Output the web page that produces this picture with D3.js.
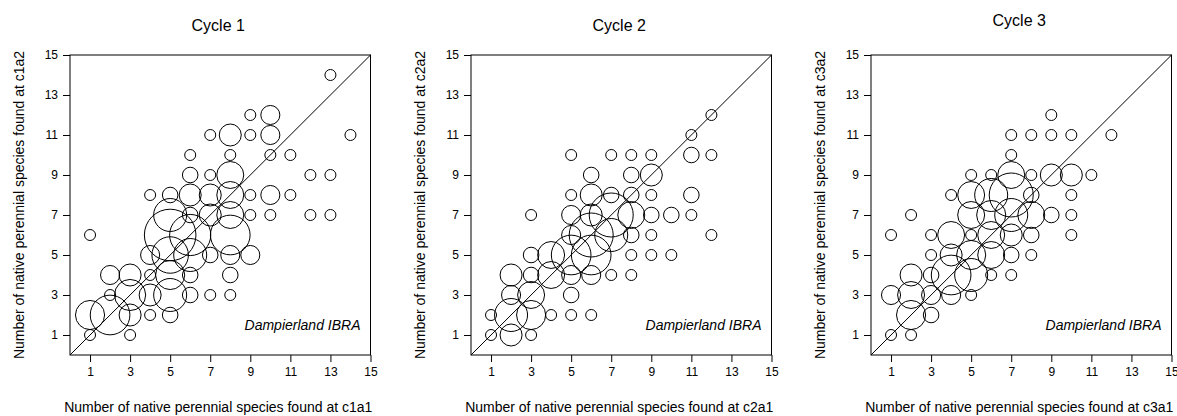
<!DOCTYPE html>
<html>
<head>
<meta charset="utf-8">
<script src="https://cdn.jsdelivr.net/npm/d3@7"></script>
<style>
  html, body { margin: 0; padding: 0; background: #fff; }
  svg { display: block; font-family: Arial, "Liberation Sans", sans-serif; }
</style>
</head>
<body>
<svg id="chart" width="1177" height="416"></svg>
<script>
// Site-pair comparisons: [species at a1, species at a2, number of site pairs]
const cycle1 = [
  [13,14,1],[9,12,1],[10,12,3],[7,11,1],[8,11,4],[9,11,1],[10,11,3],[14,11,1],
  [6,10,1],[8,10,1],[10,10,1],[11,10,1],
  [6,9,2],[7,9,1],[8,9,6],[12,9,1],[13,9,1],
  [4,8,1],[5,8,2],[6,8,4],[7,8,4],[8,8,6],[9,8,1],[10,8,3],[11,8,1],
  [5,7,9],[6,7,2],[7,7,4],[8,7,6],[9,7,1],[10,7,1],[12,7,1],[13,7,1],
  [1,6,1],[5,6,22],[6,6,14],[8,6,13],
  [4,5,3],[5,5,11],[6,5,9],[7,5,2],[8,5,3],[9,5,3],
  [2,4,3],[3,4,4],[4,4,1],[5,4,7],[6,4,2],[8,4,2],
  [2,3,1],[3,3,8],[4,3,4],[5,3,9],[6,3,2],[7,3,1],[8,3,1],
  [1,2,7],[2,2,13],[3,2,4],[4,2,1],[5,2,2],
  [1,1,1],[3,1,1]
];
const cycle2 = [
  [12,12,1],[11,11,1],
  [5,10,1],[7,10,1],[8,10,1],[9,10,1],[11,10,2],[12,10,1],
  [6,9,2],[8,9,2],[9,9,4],
  [5,8,1],[6,8,4],[7,8,2],[8,8,2],[9,8,1],[11,8,2],
  [3,7,1],[5,7,3],[6,7,4],[7,7,16],[8,7,6],[9,7,2],[10,7,2],[11,7,1],
  [5,6,3],[6,6,16],[7,6,9],[8,6,2],[9,6,1],[12,6,1],
  [3,5,2],[4,5,6],[5,5,13],[6,5,13],[8,5,1],[9,5,1],[10,5,1],
  [2,4,4],[3,4,2],[4,4,6],[5,4,3],[6,4,3],[7,4,1],[8,4,1],
  [2,3,3],[3,3,6],[5,3,2],
  [1,2,1],[2,2,9],[3,2,7],[4,2,1],[5,2,1],[6,2,1],
  [1,1,1],[2,1,4],[3,1,1]
];
const cycle3 = [
  [9,12,1],
  [7,11,1],[8,11,1],[9,11,1],[10,11,1],[12,11,1],
  [7,10,1],
  [5,9,1],[6,9,1],[7,9,6],[8,9,1],[9,9,4],[10,9,4],[11,9,1],
  [4,8,1],[5,8,6],[6,8,9],[7,8,16],[8,8,2],[10,8,1],
  [2,7,1],[5,7,6],[6,7,7],[7,7,9],[8,7,6],[9,7,2],[10,7,1],
  [1,6,1],[3,6,1],[4,6,6],[5,6,1],[6,6,6],[7,6,4],[8,6,2],[10,6,1],
  [3,5,1],[4,5,4],[5,5,7],[6,5,6],[7,5,2],[8,5,1],
  [2,4,4],[3,4,2],[4,4,13],[5,4,9],[6,4,1],[7,4,1],
  [1,3,3],[2,3,6],[3,3,3],[4,3,3],[5,3,1],
  [2,2,7],[3,2,2],
  [1,1,1],[2,1,1]
];

const titles = ["Cycle 1", "Cycle 2", "Cycle 3"];
const xLabels = [
  "Number of native perennial species found at c1a1",
  "Number of native perennial species found at c2a1",
  "Number of native perennial species found at c3a1"
];
const yLabels = [
  "Number of native perennial species found at c1a2",
  "Number of native perennial species found at c2a2",
  "Number of native perennial species found at c3a2"
];
const tickValues = [1, 3, 5, 7, 9, 11, 13, 15];
const regionLabel = "Dampierland IBRA";
const panels = [cycle1, cycle2, cycle3];

const svg = d3.select("#chart");
const plotW = 300.5, plotH = 300;
const plotTop = 55;
const lefts = [70, 471, 871];
const titleY = [31, 31, 26];

// Bubble radius grows with the square root of the pair count
const rScale = d3.scaleSqrt().domain([0, 1]).range([0, 5.5]);

panels.forEach((data, i) => {
  const g = svg.append("g").attr("transform", `translate(${lefts[i]},${plotTop})`);
  const x = d3.scaleLinear().domain([0, 15]).range([0, plotW]);
  const y = d3.scaleLinear().domain([0, 15]).range([plotH, 0]);

  // frame
  g.append("rect")
    .attr("x", 0).attr("y", 0).attr("width", plotW).attr("height", plotH)
    .attr("fill", "none").attr("stroke", "#000").attr("stroke-width", 1);

  // 1:1 line
  g.append("line")
    .attr("x1", x(0)).attr("y1", y(0)).attr("x2", x(15)).attr("y2", y(15))
    .attr("stroke", "#000").attr("stroke-width", 1);

  // bubbles
  g.append("g").selectAll("circle").data(data).join("circle")
    .attr("cx", d => x(d[0]))
    .attr("cy", d => y(d[1]))
    .attr("r", d => rScale(d[2]))
    .attr("fill", "none")
    .attr("stroke", "#000")
    .attr("stroke-width", 1);

  // axes
  const xAxis = d3.axisBottom(x).tickValues(tickValues).tickSize(7).tickPadding(5);
  const yAxis = d3.axisLeft(y).tickValues(tickValues).tickSize(7).tickPadding(5);
  const gx = g.append("g").attr("transform", `translate(0,${plotH})`).call(xAxis);
  const gy = g.append("g").call(yAxis);
  [gx, gy].forEach(a => {
    a.select(".domain").remove();
    a.selectAll("line").attr("stroke", "#000");
    a.selectAll("text").attr("font-size", 12).attr("fill", "#000")
      .attr("font-family", "Arial, 'Liberation Sans', sans-serif");
  });

  // region label
  g.append("text")
    .attr("x", plotW - 10).attr("y", y(1.25))
    .attr("text-anchor", "end")
    .attr("font-style", "italic")
    .attr("font-size", 14)
    .text(regionLabel);

  // title
  svg.append("text")
    .attr("x", lefts[i] + plotW / 2 - 2).attr("y", titleY[i])
    .attr("text-anchor", "middle")
    .attr("font-size", 16)
    .text(titles[i]);

  // x axis title
  svg.append("text")
    .attr("x", lefts[i] + plotW / 2 - 2).attr("y", 412)
    .attr("text-anchor", "middle")
    .attr("font-size", 14)
    .text(xLabels[i]);

  // y axis title
  svg.append("text")
    .attr("transform", `translate(${lefts[i] - 46.5},${plotTop + plotH / 2}) rotate(-90)`)
    .attr("text-anchor", "middle")
    .attr("font-size", 14)
    .text(yLabels[i]);
});
</script>
</body>
</html>
